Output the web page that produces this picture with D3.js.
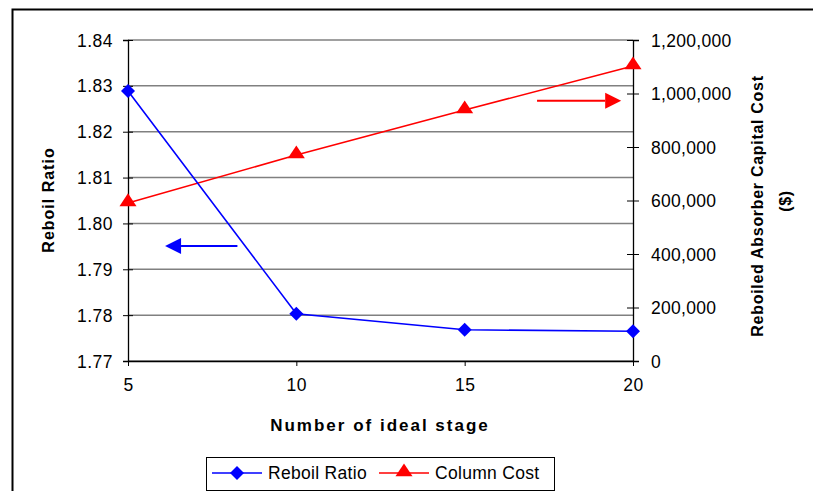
<!DOCTYPE html>
<html>
<head>
<meta charset="utf-8">
<script src="https://cdn.jsdelivr.net/npm/d3@7"></script>
<style>
  body { margin: 0; background: #fff; }
  svg text { font-family: Arial, "Liberation Sans", sans-serif; fill: #000; }
</style>
</head>
<body>
<svg id="chart" width="813" height="491"></svg>
<script>

// Chart data
const stages = [5, 10, 15, 20];
const reboilRatio = [1.8289, 1.7803, 1.7768, 1.7765];
const columnCost = [591000, 770000, 938000, 1103000];

const leftTicks = [1.77, 1.78, 1.79, 1.80, 1.81, 1.82, 1.83, 1.84];
const rightTicks = [0, 200000, 400000, 600000, 800000, 1000000, 1200000];
const xTicks = [5, 10, 15, 20];

// Annotation arrows, in data units
const blueArrow = { x1: 8.25, x2: 6.1, y: 1.7951 };
const redArrow = { x1: 17.15, x2: 19.65, y: 973000 };

const svg = d3.select("#chart");

// Outer frame
svg.append("rect")
    .attr("x", 12.5).attr("y", 9.5)
    .attr("width", 820).attr("height", 500)
    .attr("fill", "none")
    .attr("stroke", "#000")
    .attr("stroke-width", 2);

const plot = { left: 128, right: 633, top: 40, bottom: 361 };
const tickFont = 17.5;

const x = d3.scaleLinear().domain([5, 20]).range([plot.left, plot.right]);
const yL = d3.scaleLinear().domain([1.77, 1.84]).range([plot.bottom, plot.top]);
const yR = d3.scaleLinear().domain([0, 1200000]).range([plot.bottom, plot.top]);

// Gridlines
svg.append("g")
    .selectAll("line")
    .data(leftTicks)
    .join("line")
        .attr("x1", plot.left).attr("x2", plot.right)
        .attr("y1", d => yL(d)).attr("y2", d => yL(d))
        .attr("stroke", "#808080")
        .attr("stroke-width", 1.5);

// Left axis
svg.append("g")
    .attr("transform", `translate(${plot.left},0)`)
    .call(d3.axisLeft(yL).tickValues(leftTicks).tickFormat(d3.format(".2f")).tickSize(5).tickPadding(10))
    .call(g => g.select(".domain").attr("stroke", "#000").attr("stroke-width", 1.3))
    .call(g => g.selectAll(".tick line").attr("x2", -5).clone().attr("x2", 5).attr("stroke", "#000"))
    .call(g => g.selectAll(".tick text")
        .attr("font-size", tickFont)
        .attr("letter-spacing", 0.5)
        .attr("dy", "0.35em"));

// Right axis
svg.append("g")
    .attr("transform", `translate(${plot.right},0)`)
    .call(d3.axisRight(yR).tickValues(rightTicks).tickFormat(d3.format(",")).tickSize(6).tickPadding(12))
    .call(g => g.select(".domain").attr("stroke", "#000").attr("stroke-width", 1.3))
    .call(g => g.selectAll(".tick line").clone().attr("x2", -6))
    .call(g => g.selectAll(".tick text")
        .attr("font-size", tickFont)
        .attr("letter-spacing", 0.3)
        .attr("dy", "0.35em"));

// Bottom axis
svg.append("g")
    .attr("transform", `translate(0,${plot.bottom})`)
    .call(d3.axisBottom(x).tickValues(xTicks).tickSize(5).tickPadding(13).tickSizeOuter(0))
    .call(g => g.select(".domain").attr("stroke", "#000").attr("stroke-width", 1.3))
    .call(g => g.selectAll(".tick text")
        .attr("font-size", tickFont)
        .attr("letter-spacing", 0.5));

// Axis titles
svg.append("text")
    .attr("transform", `translate(54,200) rotate(-90)`)
    .attr("text-anchor", "middle")
    .attr("font-size", 16)
    .attr("font-weight", "bold")
    .attr("letter-spacing", 1)
    .text("Reboil Ratio");

svg.append("text")
    .attr("x", 380).attr("y", 431)
    .attr("text-anchor", "middle")
    .attr("font-size", 17)
    .attr("font-weight", "bold")
    .attr("letter-spacing", 2)
    .text("Number of ideal stage");

svg.append("text")
    .attr("transform", `translate(763,206) rotate(-90)`)
    .attr("text-anchor", "middle")
    .attr("font-size", 16)
    .attr("font-weight", "bold")
    .attr("letter-spacing", 0.7)
    .text("Reboiled Absorber Capital Cost");

svg.append("text")
    .attr("transform", `translate(791,201) rotate(-90)`)
    .attr("text-anchor", "middle")
    .attr("font-size", 16)
    .attr("font-weight", "bold")
    .attr("letter-spacing", 0.7)
    .text("($)");

// Series
const blue = "#0000ff";
const red = "#ff0000";
const diamond = d3.symbol().type(d3.symbolDiamond2).size(125);
const triangle = d3.symbol().type(d3.symbolTriangle).size(95);

svg.append("path")
    .datum(stages.map((s, i) => [s, columnCost[i]]))
    .attr("d", d3.line().x(d => x(d[0])).y(d => yR(d[1])))
    .attr("fill", "none")
    .attr("stroke", red)
    .attr("stroke-width", 1.6);

svg.append("path")
    .datum(stages.map((s, i) => [s, reboilRatio[i]]))
    .attr("d", d3.line().x(d => x(d[0])).y(d => yL(d[1])))
    .attr("fill", "none")
    .attr("stroke", blue)
    .attr("stroke-width", 1.6);

svg.append("g")
    .selectAll("path")
    .data(stages.map((s, i) => [s, columnCost[i]]))
    .join("path")
        .attr("transform", d => `translate(${x(d[0])},${yR(d[1]) - 1}) scale(1.15,1)`)
        .attr("d", triangle)
        .attr("fill", red);

svg.append("g")
    .selectAll("path")
    .data(stages.map((s, i) => [s, reboilRatio[i]]))
    .join("path")
        .attr("transform", d => `translate(${x(d[0])},${yL(d[1])})`)
        .attr("d", diamond)
        .attr("fill", blue);

// Annotation arrows
function drawArrow(x1, x2, y, color) {
    const dir = Math.sign(x2 - x1);
    const headLen = 16, headHalf = 8;
    svg.append("line")
        .attr("x1", x1).attr("x2", x2 - dir * headLen)
        .attr("y1", y).attr("y2", y)
        .attr("stroke", color)
        .attr("stroke-width", 2);
    svg.append("path")
        .attr("d", `M${x2},${y} L${x2 - dir * headLen},${y - headHalf} L${x2 - dir * headLen},${y + headHalf} Z`)
        .attr("fill", color);
}
drawArrow(x(blueArrow.x1), x(blueArrow.x2), yL(blueArrow.y), blue);
drawArrow(x(redArrow.x1), x(redArrow.x2), yR(redArrow.y), red);

// Legend
const legend = svg.append("g").attr("transform", "translate(206,457)");
legend.append("rect")
    .attr("x", 0.5).attr("y", 0.5)
    .attr("width", 348).attr("height", 33)
    .attr("fill", "#fff")
    .attr("stroke", "#000")
    .attr("stroke-width", 1);

const legendItems = [
    { label: "Reboil Ratio", color: blue, symbol: diamond, sx: 1, lx: 6 },
    { label: "Column Cost", color: red, symbol: triangle, sx: 1.15, lx: 173 }
];
legendItems.forEach(item => {
    legend.append("line")
        .attr("x1", item.lx).attr("x2", item.lx + 50)
        .attr("y1", 16).attr("y2", 16)
        .attr("stroke", item.color)
        .attr("stroke-width", 1.6);
    legend.append("path")
        .attr("transform", `translate(${item.lx + 25},${item.symbol === triangle ? 15 : 16}) scale(${item.sx},1)`)
        .attr("d", item.symbol)
        .attr("fill", item.color);
    legend.append("text")
        .attr("x", item.lx + 56).attr("y", 22)
        .attr("font-size", tickFont)
        .attr("letter-spacing", 0.3)
        .text(item.label);
});

</script>
</body>
</html>
